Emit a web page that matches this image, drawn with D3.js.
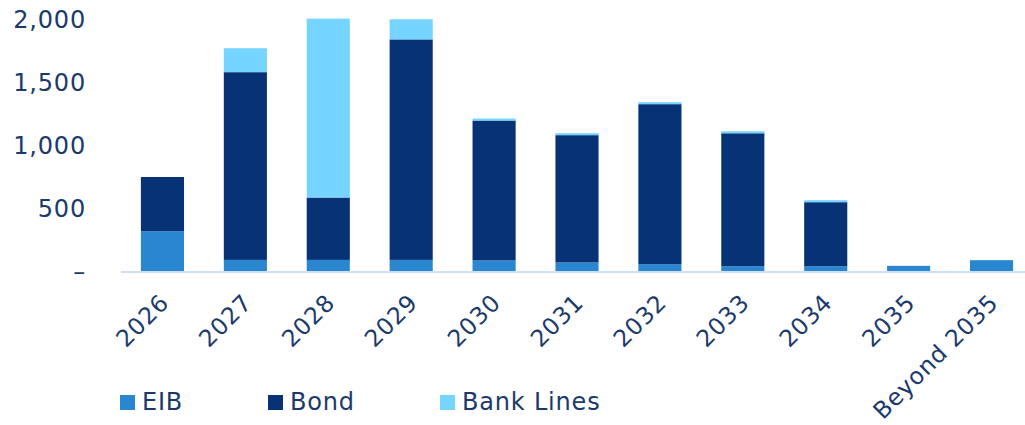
<!DOCTYPE html>
<html><head><meta charset="utf-8">
<script src="https://cdn.jsdelivr.net/npm/d3@7"></script>
<style>body{margin:0;background:#fff}svg{display:block}text{font-family:"DejaVu Sans",sans-serif;fill:#1b3a6b;letter-spacing:0.8px}</style>
</head><body><svg id="c" width="1025" height="425"></svg>
<script>
const categories = ["2026","2027","2028","2029","2030","2031","2032","2033","2034","2035","Beyond 2035"];
const eib = [320, 92, 92, 92, 88, 72, 58, 42, 42, 45, 90];
const bond = [430, 1490, 495, 1750, 1110, 1010, 1270, 1055, 508, 0, 0];
const bankLines = [0, 190, 1420, 160, 16, 16, 16, 16, 16, 0, 0];
const seriesNames = ["EIB","Bond","Bank Lines"];
const colors = ["#2986cf","#083276","#76d5fe"];
const yTicks = [0,500,1000,1500,2000];

const svg = d3.select("#c");
const x = d3.scaleBand().domain(categories).range([121,1033]).paddingInner(0.48).paddingOuter(0.24);
const y = d3.scaleLinear().domain([0,2000]).range([271.5,19.5]);

const rows = categories.map((c,i)=>({cat:c, "EIB":eib[i], "Bond":bond[i], "Bank Lines":bankLines[i]}));
const stacked = d3.stack().keys(seriesNames)(rows);

svg.append("g").selectAll("g").data(stacked).join("g")
  .attr("fill",(d,i)=>colors[i])
  .selectAll("rect").data(d=>d).join("rect")
  .attr("x",d=>x(d.data.cat))
  .attr("width",x.bandwidth())
  .attr("y",d=>y(d[1]))
  .attr("height",d=>Math.max(0,y(d[0])-y(d[1])));

// baseline
svg.append("line").attr("x1",121).attr("x2",1025).attr("y1",272).attr("y2",272)
  .attr("stroke","#cfe0fb").attr("stroke-width",2);

// y axis
const yAxis = d3.axisLeft(y).tickValues(yTicks).tickSize(0).tickPadding(0)
  .tickFormat(d=> d===0 ? "–" : d3.format(",")(d));
const gy = svg.append("g").attr("transform","translate(86,0)").call(yAxis);
gy.select(".domain").remove();
gy.selectAll("text").style("font-size","24px").attr("dy","0.35em").attr("fill","#1b3a6b")
  .style("font-family","DejaVu Sans");

// x axis labels
const xAxis = d3.axisBottom(x).tickSize(0).tickPadding(0);
const gx = svg.append("g").call(xAxis);
gx.select(".domain").remove();
gx.selectAll(".tick").attr("transform",d=>`translate(${x(d)+x.bandwidth()/2},0)`);
gx.selectAll("text").attr("y",0).attr("dy",0)
  .attr("text-anchor","end").attr("transform","translate(8,304) rotate(-45)")
  .style("font-size","23.5px").attr("fill","#1b3a6b").style("font-family","DejaVu Sans");

// legend
const lx = [120,268,440];
const lg = svg.append("g");
seriesNames.forEach((s,i)=>{
  lg.append("rect").attr("x",lx[i]).attr("y",395).attr("width",15).attr("height",15).attr("fill",colors[i]);
  lg.append("text").attr("x",lx[i]+22).attr("y",410).text(s).style("font-size","24px");
});
</script></body></html>
